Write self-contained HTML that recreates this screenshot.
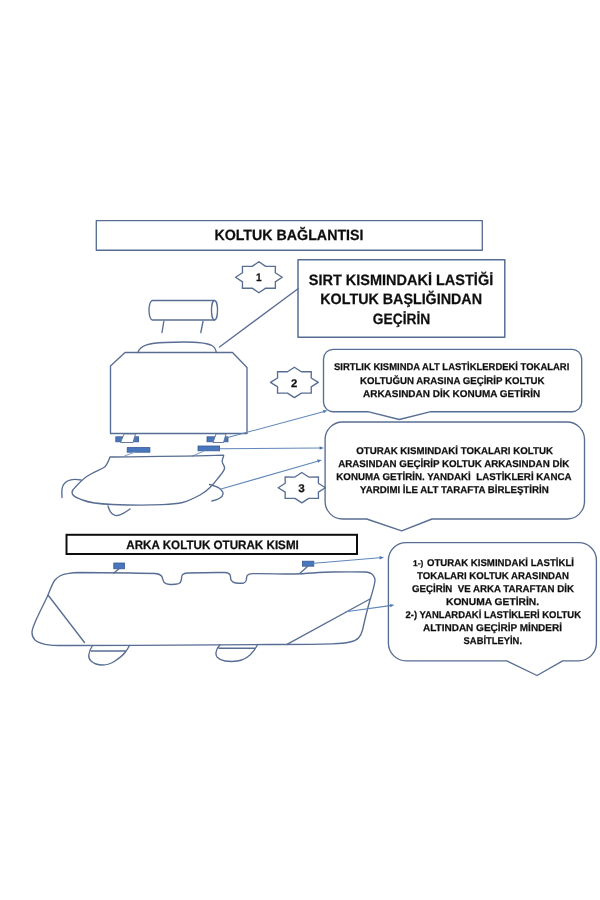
<!DOCTYPE html>
<html lang="tr">
<head>
<meta charset="utf-8">
<title>Koltuk Bağlantısı</title>
<style>
html,body{margin:0;padding:0;background:#fff;}
body{width:600px;height:900px;overflow:hidden;}
svg{display:block;font-family:"Liberation Sans",sans-serif;text-rendering:geometricPrecision;}

text{white-space:pre;}
.ar{fill:none;stroke:#5f86bb;stroke-width:1.05;stroke-linecap:round;}
.ln{fill:none;stroke:#586d93;stroke-width:1.35;stroke-linecap:round;stroke-linejoin:round;}
</style>
</head>
<body>
<svg width="600" height="900" viewBox="0 0 600 900">
<defs><filter id="soft" x="0" y="0" width="600" height="900" filterUnits="userSpaceOnUse"><feGaussianBlur stdDeviation="0.45"/></filter></defs>
<rect width="600" height="900" fill="#fff"/>
<g filter="url(#soft)">
<rect x="96.3" y="220.6" width="386" height="29.6" class="ln"/>
<text x="214.40" y="239.70" font-size="14.8" font-weight="bold" fill="#111" stroke="#111" stroke-width="0.25" textLength="149.10" lengthAdjust="spacingAndGlyphs" xml:space="preserve">KOLTUK BAĞLANTISI</text>
<polygon points="258.90,261.80 265.69,266.42 275.41,266.34 275.30,272.79 282.25,277.30 275.30,281.81 275.41,288.26 265.69,288.18 258.90,292.80 252.11,288.18 242.39,288.26 242.50,281.81 235.55,277.30 242.50,272.79 242.39,266.34 252.11,266.42" class="ln"/>
<text x="255.90" y="281.30" font-size="11" font-weight="bold" fill="#111" stroke="#111" stroke-width="0.25" textLength="5.60" lengthAdjust="spacingAndGlyphs" xml:space="preserve">1</text>
<rect x="298" y="259.8" width="206.8" height="77.5" class="ln" style="stroke-width:1.5"/>
<text x="308.80" y="284.80" font-size="15" font-weight="bold" fill="#111" stroke="#111" stroke-width="0.25" textLength="184.40" lengthAdjust="spacingAndGlyphs" xml:space="preserve">SIRT KISMINDAKİ LASTİĞİ</text>
<text x="320.30" y="304.20" font-size="15" font-weight="bold" fill="#111" stroke="#111" stroke-width="0.25" textLength="161.70" lengthAdjust="spacingAndGlyphs" xml:space="preserve">KOLTUK BAŞLIĞINDAN</text>
<text x="372.80" y="323.50" font-size="15" font-weight="bold" fill="#111" stroke="#111" stroke-width="0.25" textLength="57.40" lengthAdjust="spacingAndGlyphs" xml:space="preserve">GEÇİRİN</text>
<line x1="219.5" y1="347" x2="298" y2="288.8" class="ln"/>
<path d="M152.5,300.5 H214.5 M152.5,320 H214.5 M152.5,300.5 A3.5,9.75 0 0 0 152.5,320" class="ln"/>
<ellipse cx="214.5" cy="310.25" rx="3" ry="9.75" class="ln"/>
<path d="M163.8,321.5 L162,332.5 M203,321.5 L200.8,332.5" class="ln"/>
<path d="M138,352.5 C140,345 150,343 165,342.5 C185,341.5 205,342 212,345.5 C215,347.5 216,350 216.3,352.5" class="ln"/>
<path d="M125,352.5 H232.5 L247,367.5 V433.5 H110.5 V366 Z" class="ln"/>
<rect x="115.8" y="436.8" width="22.8" height="5" fill="#4877be" stroke="#37598f" stroke-width="0.8"/>
<path d="M124,434 L120.5,442.5 H133 L135.5,434 Z" fill="#fff" stroke="#586d93" stroke-width="0.9"/>
<rect x="207" y="436.8" width="21" height="5" fill="#4877be" stroke="#37598f" stroke-width="0.8"/>
<path d="M216,434 L213,442.5 H223.5 L226,434 Z" fill="#fff" stroke="#586d93" stroke-width="0.9"/>
<rect x="127.2" y="447.6" width="22.7" height="4.6" fill="#4877be" stroke="#37598f" stroke-width="0.8"/>
<rect x="198" y="446" width="21.6" height="4.8" fill="#4877be" stroke="#37598f" stroke-width="0.8"/>
<path d="M134.7,452.2 L125,455.8 M204,451 L192,456.2" class="ar" style="stroke:#8aa4cc"/>
<path d="M110,457 C150,456.6 190,456.4 223.7,455.2 C223.5,458 221,460.5 222.5,463 C223.5,465 225,466.5 224.5,468.8 C223.5,472 220.5,475 217.5,478.8 C215,482 213,484.5 210,487.5 C207,490.5 204,492.8 200,495 C194.5,498 189,500.8 182.5,502.5 C176,504 169.5,504.3 162.5,504.6 C150,505.2 131,505.2 112.5,504.5 C101,504 90,503 82.5,500 C77,497.8 72,496.5 72,492.5 C72,490.5 73,489.2 75,487.5 C78.5,483.5 83,479 87.5,476 C92.5,472.5 98.5,470.5 103.8,467.5 C106.8,465.8 108.5,461 110,457 Z" class="ln"/>
<path d="M81,480 C76,479 71,479 67.5,481 C64,483 62.5,485.5 62,489 C61.7,491.5 61.9,494.5 62,497.5" class="ln"/>
<path d="M108,506 C109,509.5 110,512 112.5,514 C114,515.2 115.5,515.8 117.5,515.5 C122,514.8 126.5,511.5 130,509" class="ln"/>
<path d="M209.5,484.5 C213.5,485.5 217.5,486.5 220,488.8 C222,490.5 223.2,492 223,493.8 C222.7,495.8 221.5,497 220,498 C217.5,499.6 214.5,500.4 212,501" class="ln"/>
<polygon points="294.40,367.20 301.35,371.73 311.30,371.65 311.18,377.98 318.30,382.40 311.18,386.82 311.30,393.15 301.35,393.07 294.40,397.60 287.45,393.07 277.50,393.15 277.62,386.82 270.50,382.40 277.62,377.98 277.50,371.65 287.45,371.73" class="ln"/>
<text x="290.90" y="386.60" font-size="11" font-weight="bold" fill="#111" stroke="#111" stroke-width="0.25" textLength="6.30" lengthAdjust="spacingAndGlyphs" xml:space="preserve">2</text>
<path d="M333.2,349.3 H572.0 A9.7,9.7 0 0 1 581.7,359.0 V402.0 A9.7,9.7 0 0 1 572.0,411.7 H430.8 L399.3,419.5 L367.8,411.7 H333.2 A9.7,9.7 0 0 1 323.5,402.0 V359.0 A9.7,9.7 0 0 1 333.2,349.3 Z" class="ln"/>
<text x="334.00" y="370.30" font-size="9.8" font-weight="bold" fill="#111" stroke="#111" stroke-width="0.25" textLength="235.30" lengthAdjust="spacingAndGlyphs" xml:space="preserve">SIRTLIK KISMINDA ALT LASTİKLERDEKİ TOKALARI</text>
<text x="360.00" y="383.50" font-size="9.8" font-weight="bold" fill="#111" stroke="#111" stroke-width="0.25" textLength="184.50" lengthAdjust="spacingAndGlyphs" xml:space="preserve">KOLTUĞUN ARASINA GEÇİRİP KOLTUK</text>
<text x="363.00" y="396.70" font-size="9.8" font-weight="bold" fill="#111" stroke="#111" stroke-width="0.25" textLength="177.20" lengthAdjust="spacingAndGlyphs" xml:space="preserve">ARKASINDAN DİK KONUMA GETİRİN</text>
<line x1="226" y1="438" x2="323.25" y2="411.65" class="ar"/>
<polygon points="327.5,410.5 323.70,413.29 322.81,410.01" fill="#4e79b3"/>
<line x1="220" y1="448.8" x2="319.60" y2="448.03" class="ar"/>
<polygon points="324,448 319.61,449.73 319.59,446.33" fill="#4e79b3"/>
<line x1="221" y1="489" x2="317.57" y2="461.22" class="ar"/>
<polygon points="321.8,460 318.04,462.85 317.10,459.58" fill="#4e79b3"/>
<polygon points="301.80,472.55 308.66,477.06 318.49,476.99 318.37,483.29 325.40,487.70 318.37,492.11 318.49,498.41 308.66,498.34 301.80,502.85 294.94,498.34 285.11,498.41 285.23,492.11 278.20,487.70 285.23,483.29 285.11,476.99 294.94,477.06" class="ln"/>
<text x="298.30" y="491.80" font-size="11" font-weight="bold" fill="#111" stroke="#111" stroke-width="0.25" textLength="6.50" lengthAdjust="spacingAndGlyphs" xml:space="preserve">3</text>
<path d="M342.6,422 H567.0 A17.5,17.5 0 0 1 584.5,439.5 V501.5 A17.5,17.5 0 0 1 567.0,519 H432 L401.7,530.8 L366.7,519 H342.6 A17.5,17.5 0 0 1 325.1,501.5 V439.5 A17.5,17.5 0 0 1 342.6,422 Z" class="ln"/>
<text x="356.20" y="454.30" font-size="9.8" font-weight="bold" fill="#111" stroke="#111" stroke-width="0.25" textLength="196.70" lengthAdjust="spacingAndGlyphs" xml:space="preserve">OTURAK KISMINDAKİ TOKALARI KOLTUK</text>
<text x="338.20" y="467.30" font-size="9.8" font-weight="bold" fill="#111" stroke="#111" stroke-width="0.25" textLength="231.00" lengthAdjust="spacingAndGlyphs" xml:space="preserve">ARASINDAN GEÇİRİP KOLTUK ARKASINDAN DİK</text>
<text x="336.30" y="480.30" font-size="9.8" font-weight="bold" fill="#111" stroke="#111" stroke-width="0.25" textLength="235.20" lengthAdjust="spacingAndGlyphs" xml:space="preserve">KONUMA GETİRİN. YANDAKİ  LASTİKLERİ KANCA</text>
<text x="360.10" y="493.30" font-size="9.8" font-weight="bold" fill="#111" stroke="#111" stroke-width="0.25" textLength="188.60" lengthAdjust="spacingAndGlyphs" xml:space="preserve">YARDIMI İLE ALT TARAFTA BİRLEŞTİRİN</text>
<rect x="66.5" y="534.8" width="290.5" height="19.2" fill="none" stroke="#111" stroke-width="2"/>
<text x="126.30" y="549.30" font-size="12.2" font-weight="bold" fill="#111" stroke="#111" stroke-width="0.25" textLength="172.50" lengthAdjust="spacingAndGlyphs" xml:space="preserve">ARKA KOLTUK OTURAK KISMI</text>
<path d="M48,595 C50.5,589 52,584 55,580 C58,576.5 62,574.5 67.5,573.7 C71,573.1 75,572.6 80,572.5 C105,572.6 130,572.8 155,573.5 C158,573.7 160,574.2 161.5,576 C163,578 162.5,581 164.5,582.8 C166,584.2 168.5,584.4 170,584.5 C173,584.6 176,584.4 178.7,583.7 C180.5,583 181,581.5 181.3,580 C181.7,578 181.3,576 182.5,574.8 C183.8,573.4 185.5,573.1 187.5,573 C200,572.6 212,572.4 225,572.5 C227.5,572.6 229,573 230,574.8 C231,576.8 230.2,578.5 231.2,580.3 C232.2,582.2 234,582.8 236,583 C238.5,583.3 241.5,583.4 243.7,583 C245.3,582.6 246,581.6 246.3,580 C246.7,578.4 246.3,576.8 247.3,575.4 C248.4,574 250,573.8 252.5,573.7 C268,573.5 283,574.2 295,574 C308,573.6 320,572.2 332.5,572 C343,571.8 354,571.7 365,572 C369,572.2 371.5,573 373.2,575.3 C374.8,577.5 375.2,579 375,581 C374,587.5 372,593.5 370,600 C368.6,605 367.3,610 366,615 C364.8,620 363.7,625 362.5,630 C361.7,633 360.8,635.6 358.7,637.7 C356.5,640 353.5,641.2 350,642 C344.5,643.2 338.5,643.6 332.5,643.8 C312,644.4 291,644.4 270,644.5 C200,644.8 135,645.5 67.5,645.5 C59.5,645.5 51.5,645.6 45,644.3 C40.5,643.3 37,642 35,640 C33,638 32,635.5 32,632.5 C32,629 33.5,626 35,622.5 C39,613 44,604 48,595 Z" class="ln"/>
<path d="M48,595 L84.5,642.5 M287,644.3 L370,599 " class="ln"/>
<path d="M92.5,645.5 C90.5,648.5 89,651.5 88.8,655 C88.6,657.5 89.3,659.5 91,661 C94,663.8 98.3,665 102.5,665 C107,665 111.3,663.5 115,661 C119,658.3 122.5,655.8 125,652.5 C126.8,650.2 128.3,648 129.5,645.5 M91,651 H125.3" class="ln"/>
<path d="M220,644.7 C217.8,647 216.2,649.5 216,652.5 C215.8,654.5 216.2,656.2 217.5,657.5 C219.5,659.6 222,660.6 225,661 C229.2,661.6 233.5,661.6 237.5,661 C242.2,660.3 246.5,658 250,655 C253,652.3 255.5,648.5 257.5,644.7 M219,648.2 H254.5" class="ln"/>
<rect x="113.8" y="563" width="10.7" height="5.8" fill="#4877be" stroke="#37598f" stroke-width="0.8"/>
<rect x="302.5" y="561.2" width="11.3" height="5" fill="#4877be" stroke="#37598f" stroke-width="0.8"/>
<path d="M118.8,569 L113.8,573 M307.5,566.5 L300,573.2" class="ln"/>
<line x1="314" y1="563.3" x2="379.62" y2="557.77" class="ar"/>
<polygon points="384,557.4 379.76,559.46 379.47,556.08" fill="#4e79b3"/>
<line x1="346" y1="611.8" x2="390.04" y2="605.61" class="ar"/>
<polygon points="394.4,605 390.28,607.30 389.81,603.93" fill="#4e79b3"/>
<path d="M406.09999999999997,542.6 H578.6999999999999 A17.7,17.7 0 0 1 596.4,560.3000000000001 V643.0999999999999 A17.7,17.7 0 0 1 578.6999999999999,660.8 H562.7 L537,675.5 L506.7,660.8 H406.09999999999997 A17.7,17.7 0 0 1 388.4,643.0999999999999 V560.3000000000001 A17.7,17.7 0 0 1 406.09999999999997,542.6 Z" class="ln"/>
<text x="413.00" y="566.00" font-size="8.2" font-weight="bold" fill="#111" stroke="#111" stroke-width="0.25" textLength="10.20" lengthAdjust="spacingAndGlyphs" xml:space="preserve">1-)</text>
<text x="427.00" y="566.00" font-size="9.8" font-weight="bold" fill="#111" stroke="#111" stroke-width="0.25" textLength="147.00" lengthAdjust="spacingAndGlyphs" xml:space="preserve">OTURAK KISMINDAKİ LASTİKLİ</text>
<text x="417.00" y="579.00" font-size="9.8" font-weight="bold" fill="#111" stroke="#111" stroke-width="0.25" textLength="152.00" lengthAdjust="spacingAndGlyphs" xml:space="preserve">TOKALARI KOLTUK ARASINDAN</text>
<text x="412.00" y="592.00" font-size="9.8" font-weight="bold" fill="#111" stroke="#111" stroke-width="0.25" textLength="162.00" lengthAdjust="spacingAndGlyphs" xml:space="preserve">GEÇİRİN  VE ARKA TARAFTAN DİK</text>
<text x="446.00" y="605.00" font-size="9.8" font-weight="bold" fill="#111" stroke="#111" stroke-width="0.25" textLength="93.00" lengthAdjust="spacingAndGlyphs" xml:space="preserve">KONUMA GETİRİN.</text>
<text x="405.60" y="617.80" font-size="9.8" font-weight="bold" fill="#111" stroke="#111" stroke-width="0.25" textLength="175.40" lengthAdjust="spacingAndGlyphs" xml:space="preserve">2-) YANLARDAKİ LASTİKLERİ KOLTUK</text>
<text x="423.00" y="630.70" font-size="9.8" font-weight="bold" fill="#111" stroke="#111" stroke-width="0.25" textLength="139.00" lengthAdjust="spacingAndGlyphs" xml:space="preserve">ALTINDAN GEÇİRİP MİNDERİ</text>
<text x="463.60" y="643.60" font-size="9.8" font-weight="bold" fill="#111" stroke="#111" stroke-width="0.25" textLength="58.40" lengthAdjust="spacingAndGlyphs" xml:space="preserve">SABİTLEYİN.</text>
</g>
</svg>
</body>
</html>
